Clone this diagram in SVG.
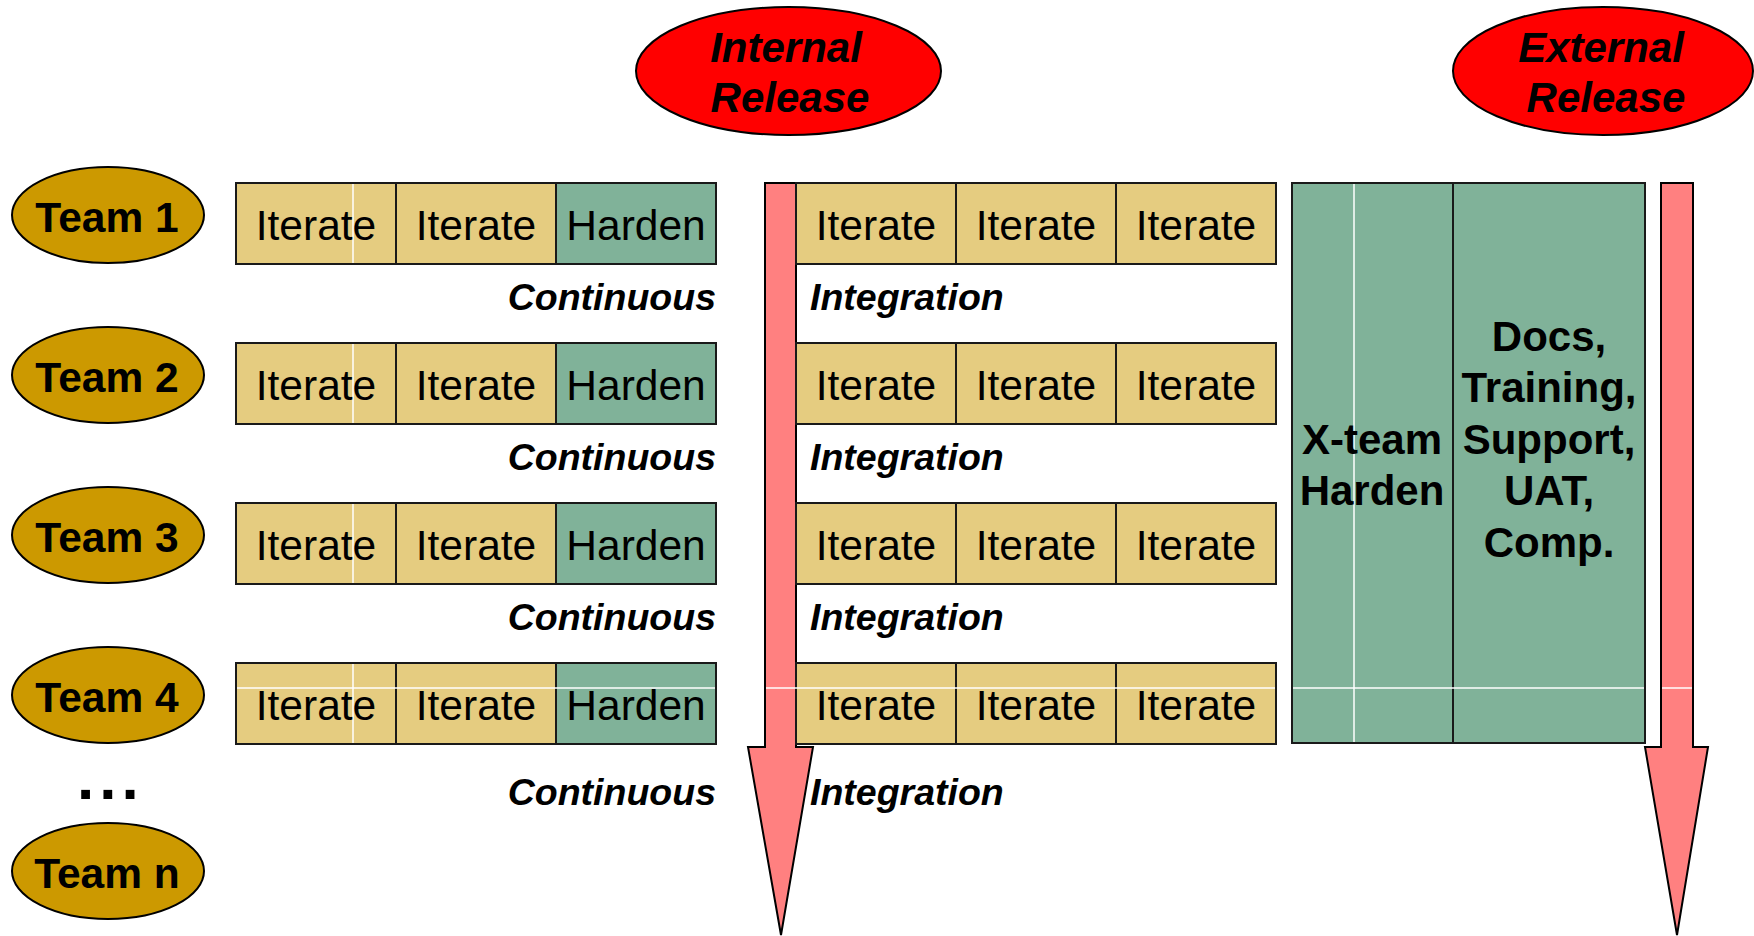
<svg xmlns="http://www.w3.org/2000/svg" width="1754" height="936" viewBox="0 0 1754 936">
<style>
text{font-family:"Liberation Sans",Arial,Helvetica,sans-serif;fill:#000}
.team{fill:#CC9900;stroke:#000;stroke-width:2}
.rel{fill:#FF0000;stroke:#000;stroke-width:2}
.it{fill:#E5CC80;stroke:#1a1a1a;stroke-width:2}
.hd{fill:#80B299;stroke:#1a1a1a;stroke-width:2}
.arr{fill:#FF8080;stroke:#000;stroke-width:2;stroke-linejoin:miter}
.tl{font-size:42.5px;font-weight:bold;text-anchor:middle}
.bx{font-size:42.5px;text-anchor:middle}
.rl{font-size:42px;font-weight:bold;font-style:italic;text-anchor:middle}
.ci{font-size:37.5px;font-weight:bold;font-style:italic}
.gx{font-size:42px;font-weight:bold;text-anchor:middle}
.wl{stroke:#fff;stroke-width:1.5}
</style>
<rect width="1754" height="936" fill="#fff"/>

<g id="arrows">
<polygon class="arr" points="765,183 796,183 796,747 813,747 781,935 748,747 765,747"/>
<polygon class="arr" points="1661,183 1693,183 1693,747 1708,747 1677,935 1645,747 1661,747"/>
</g>

<g id="internal-release">
<ellipse class="rel" cx="788.5" cy="71" rx="152.5" ry="64"/>
<text class="rl" x="786" y="62">Internal</text>
<text class="rl" x="790" y="112">Release</text>
</g>
<g id="external-release">
<ellipse class="rel" cx="1603" cy="71" rx="150" ry="64"/>
<text class="rl" x="1601" y="62">External</text>
<text class="rl" x="1606" y="112">Release</text>
</g>

<g id="team1">
<ellipse class="team" cx="108" cy="215" rx="96" ry="48"/>
<text class="tl" x="107" y="232">Team 1</text>
</g>
<g id="team2">
<ellipse class="team" cx="108" cy="375" rx="96" ry="48"/>
<text class="tl" x="107" y="392">Team 2</text>
</g>
<g id="team3">
<ellipse class="team" cx="108" cy="535" rx="96" ry="48"/>
<text class="tl" x="107" y="552">Team 3</text>
</g>
<g id="team4">
<ellipse class="team" cx="108" cy="695" rx="96" ry="48"/>
<text class="tl" x="107" y="712">Team 4</text>
</g>
<g id="dots">
<text x="77" y="799" style="font-size:62px;font-weight:bold;letter-spacing:5px">...</text>
</g>
<g id="teamn">
<ellipse class="team" cx="108" cy="871" rx="96" ry="48"/>
<text class="tl" x="107" y="888">Team n</text>
</g>

<g id="row1">
<rect class="it" x="236" y="183" width="160" height="81"/>
<rect class="it" x="396" y="183" width="160" height="81"/>
<rect class="hd" x="556" y="183" width="160" height="81"/>
<rect class="it" x="796" y="183" width="160" height="81"/>
<rect class="it" x="956" y="183" width="160" height="81"/>
<rect class="it" x="1116" y="183" width="160" height="81"/>
<line class="wl" x1="353" y1="184" x2="353" y2="263"/>
<text class="bx" x="316" y="240">Iterate</text>
<text class="bx" x="476" y="240">Iterate</text>
<text class="bx" x="636" y="240">Harden</text>
<text class="bx" x="876" y="240">Iterate</text>
<text class="bx" x="1036" y="240">Iterate</text>
<text class="bx" x="1196" y="240">Iterate</text>
<text class="ci" x="716" y="310" text-anchor="end">Continuous</text>
<text class="ci" x="810" y="310">Integration</text>
</g>
<g id="row2">
<rect class="it" x="236" y="343" width="160" height="81"/>
<rect class="it" x="396" y="343" width="160" height="81"/>
<rect class="hd" x="556" y="343" width="160" height="81"/>
<rect class="it" x="796" y="343" width="160" height="81"/>
<rect class="it" x="956" y="343" width="160" height="81"/>
<rect class="it" x="1116" y="343" width="160" height="81"/>
<line class="wl" x1="353" y1="344" x2="353" y2="423"/>
<text class="bx" x="316" y="400">Iterate</text>
<text class="bx" x="476" y="400">Iterate</text>
<text class="bx" x="636" y="400">Harden</text>
<text class="bx" x="876" y="400">Iterate</text>
<text class="bx" x="1036" y="400">Iterate</text>
<text class="bx" x="1196" y="400">Iterate</text>
<text class="ci" x="716" y="470" text-anchor="end">Continuous</text>
<text class="ci" x="810" y="470">Integration</text>
</g>
<g id="row3">
<rect class="it" x="236" y="503" width="160" height="81"/>
<rect class="it" x="396" y="503" width="160" height="81"/>
<rect class="hd" x="556" y="503" width="160" height="81"/>
<rect class="it" x="796" y="503" width="160" height="81"/>
<rect class="it" x="956" y="503" width="160" height="81"/>
<rect class="it" x="1116" y="503" width="160" height="81"/>
<line class="wl" x1="353" y1="504" x2="353" y2="583"/>
<text class="bx" x="316" y="560">Iterate</text>
<text class="bx" x="476" y="560">Iterate</text>
<text class="bx" x="636" y="560">Harden</text>
<text class="bx" x="876" y="560">Iterate</text>
<text class="bx" x="1036" y="560">Iterate</text>
<text class="bx" x="1196" y="560">Iterate</text>
<text class="ci" x="716" y="630" text-anchor="end">Continuous</text>
<text class="ci" x="810" y="630">Integration</text>
</g>
<g id="row4">
<rect class="it" x="236" y="663" width="160" height="81"/>
<rect class="it" x="396" y="663" width="160" height="81"/>
<rect class="hd" x="556" y="663" width="160" height="81"/>
<rect class="it" x="796" y="663" width="160" height="81"/>
<rect class="it" x="956" y="663" width="160" height="81"/>
<rect class="it" x="1116" y="663" width="160" height="81"/>
<line class="wl" x1="353" y1="664" x2="353" y2="743"/>
<text class="bx" x="316" y="720">Iterate</text>
<text class="bx" x="476" y="720">Iterate</text>
<text class="bx" x="636" y="720">Harden</text>
<text class="bx" x="876" y="720">Iterate</text>
<text class="bx" x="1036" y="720">Iterate</text>
<text class="bx" x="1196" y="720">Iterate</text>
<text class="ci" x="716" y="805" text-anchor="end">Continuous</text>
<text class="ci" x="810" y="805">Integration</text>
</g>

<g id="xteam">
<rect class="hd" x="1292" y="183" width="161" height="560"/>
<rect class="hd" x="1453" y="183" width="192" height="560"/>
<line class="wl" x1="1354" y1="184" x2="1354" y2="742"/>
<text class="gx" x="1372" y="454">X-team</text>
<text class="gx" x="1372" y="505">Harden</text>
<text class="gx" x="1549" y="351">Docs,</text>
<text class="gx" x="1549" y="402">Training,</text>
<text class="gx" x="1549" y="454">Support,</text>
<text class="gx" x="1549" y="505">UAT,</text>
<text class="gx" x="1549" y="557">Comp.</text>
</g>

<g id="seam">
<line class="wl" x1="237" y1="688" x2="715" y2="688"/>
<line class="wl" x1="766" y1="688" x2="1275" y2="688"/>
<line class="wl" x1="1293" y1="688" x2="1644" y2="688"/>
<line class="wl" x1="1662" y1="688" x2="1692" y2="688"/>
</g>
</svg>
